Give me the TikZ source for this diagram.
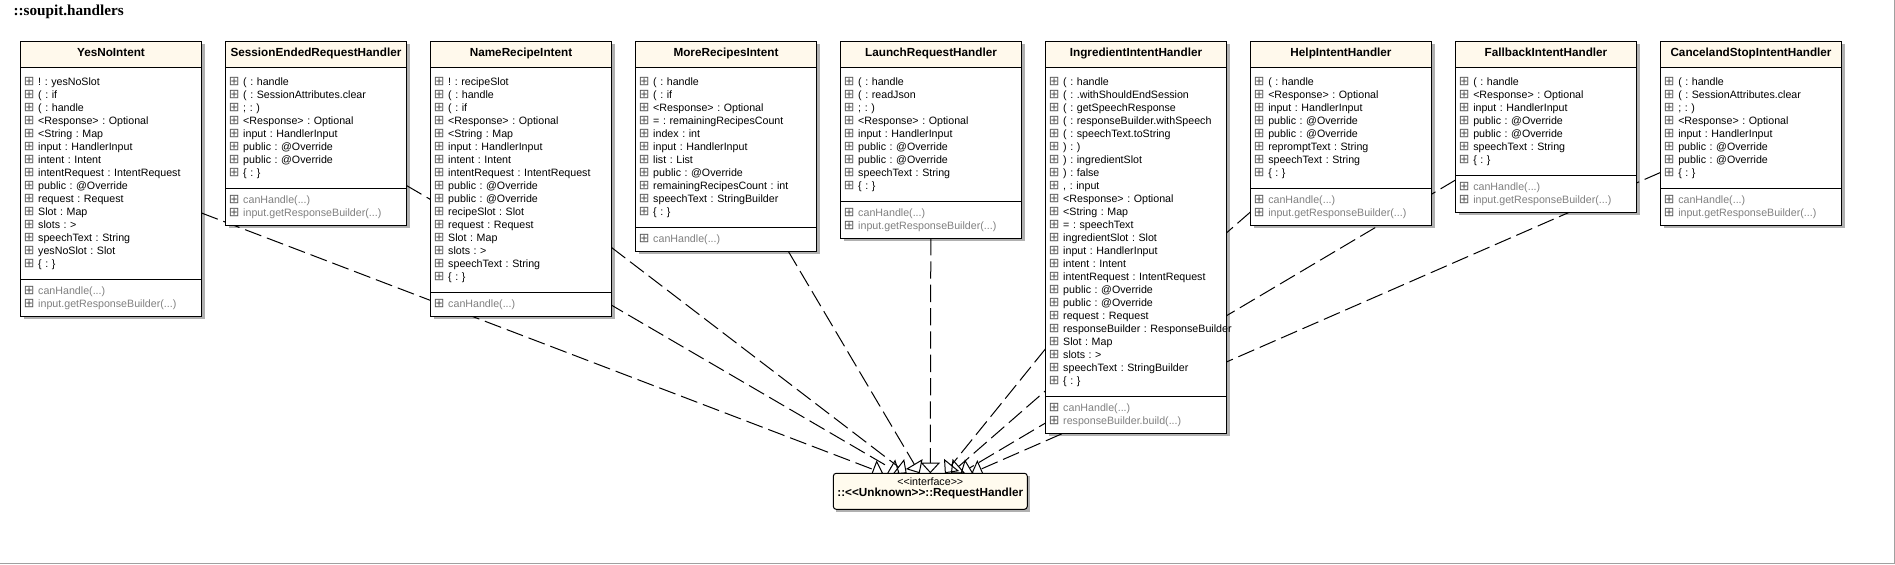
\documentclass[tikz,border=0pt]{standalone}
\usepackage{fontspec}
\setmainfont{Liberation Sans}
\newfontfamily\titlefont{Liberation Serif}
\newfontfamily\symfont{DejaVu Sans}
\usepackage{tikz}
\usetikzlibrary{shapes.multipart,arrows.meta,positioning,backgrounds}

\definecolor{headcream}{RGB}{255,249,236}
\definecolor{ifacecream}{RGB}{255,251,238}
\definecolor{methodgray}{RGB}{128,128,128}
\definecolor{icongray}{RGB}{90,90,90}
\definecolor{shadowgray}{RGB}{176,176,176}
\definecolor{framegray}{RGB}{160,160,160}

\frenchspacing
\newcommand{\plusbox}{\makebox[10.8pt][l]{\textcolor{icongray}{\symfont\fontsize{9.5pt}{9.5pt}\selectfont ⊞}}}
\newcommand{\mline}[1]{\mbox{\plusbox#1}\rule[-2.25pt]{0pt}{9.75pt}\par\nointerlineskip}
\newcommand{\opline}[1]{\mline{\textcolor{methodgray}{#1}}}
\newcommand{\vpad}[1]{\rule{0pt}{#1}\par\nointerlineskip}
\newcommand{\classtitle}[1]{\centering\bfseries\fontsize{8.8pt}{10pt}\selectfont\rule[-7.75pt]{0pt}{18.75pt}#1\par}

\tikzset{
  umlclass/.style={rectangle split, rectangle split parts=3, draw, line width=0.75pt,
    rectangle split part fill={headcream,white}, text width=130.75pt,
    inner xsep=2.5pt, inner ysep=0pt, outer sep=0pt, anchor=north west,
    font=\fontsize{8pt}{9.75pt}\selectfont\frenchspacing},
  nextclass/.style={umlclass, right=18pt of #1.north east, anchor=north west},
  ifacebox/.style={draw, line width=0.75pt, fill=ifacecream, rounded corners=2.25pt,
    text width=145.5pt, align=center, inner sep=0pt, outer sep=0pt,
    font=\fontsize{8pt}{9.75pt}\selectfont},
  boxshadow/.style={fill=shadowgray, draw=none},
  realizes/.style={line width=0.75pt, dash pattern=on 13pt off 4.5pt,
    -{Triangle[open, length=8pt, width=14.5pt]}}
}

\begin{document}
\begin{tikzpicture}[x=0.75pt, y=-0.75pt]
\useasboundingbox (0,0) rectangle (1895,564);
\draw[framegray, line width=0.75pt] (0,563.5) -- (1894.5,563.5) -- (1894.5,0);

\node[anchor=base west, inner sep=0pt, font=\titlefont\bfseries\fontsize{11.4pt}{13pt}\selectfont] (pkgtitle) at (13.3,15.5) {::soupit.handlers};

\node[umlclass] (yesno) at (20.5,41) {\classtitle{YesNoIntent}
  \nodepart{two}\vpad{6pt}\mline{! : yesNoSlot}\mline{( : if}\mline{( : handle}\mline{<Response> : Optional}\mline{<String : Map}\mline{input : HandlerInput}\mline{intent : Intent}\mline{intentRequest : IntentRequest}\mline{public : @Override}\mline{request : Request}\mline{Slot : Map}\mline{slots : >}\mline{speechText : String}\mline{yesNoSlot : Slot}\mline{\{ : \}}\vpad{6pt}
  \nodepart{three}\vpad{3.75pt}\opline{canHandle(...)}\opline{input.getResponseBuilder(...)}\vpad{3.75pt}};

\node[nextclass=yesno] (sessionended) {\classtitle{SessionEndedRequestHandler}
  \nodepart{two}\vpad{6pt}\mline{( : handle}\mline{( : SessionAttributes.clear}\mline{; : )}\mline{<Response> : Optional}\mline{input : HandlerInput}\mline{public : @Override}\mline{public : @Override}\mline{\{ : \}}\vpad{6pt}
  \nodepart{three}\vpad{3.75pt}\opline{canHandle(...)}\opline{input.getResponseBuilder(...)}\vpad{3.75pt}};

\node[nextclass=sessionended] (namerecipe) {\classtitle{NameRecipeIntent}
  \nodepart{two}\vpad{6pt}\mline{! : recipeSlot}\mline{( : handle}\mline{( : if}\mline{<Response> : Optional}\mline{<String : Map}\mline{input : HandlerInput}\mline{intent : Intent}\mline{intentRequest : IntentRequest}\mline{public : @Override}\mline{public : @Override}\mline{recipeSlot : Slot}\mline{request : Request}\mline{Slot : Map}\mline{slots : >}\mline{speechText : String}\mline{\{ : \}}\vpad{6pt}
  \nodepart{three}\vpad{3.75pt}\opline{canHandle(...)}\vpad{3.75pt}};

\node[nextclass=namerecipe] (morerecipes) {\classtitle{MoreRecipesIntent}
  \nodepart{two}\vpad{6pt}\mline{( : handle}\mline{( : if}\mline{<Response> : Optional}\mline{= : remainingRecipesCount}\mline{index : int}\mline{input : HandlerInput}\mline{list : List}\mline{public : @Override}\mline{remainingRecipesCount : int}\mline{speechText : StringBuilder}\mline{\{ : \}}\vpad{6pt}
  \nodepart{three}\vpad{3.75pt}\opline{canHandle(...)}\vpad{3.75pt}};

\node[nextclass=morerecipes] (launch) {\classtitle{LaunchRequestHandler}
  \nodepart{two}\vpad{6pt}\mline{( : handle}\mline{( : readJson}\mline{; : )}\mline{<Response> : Optional}\mline{input : HandlerInput}\mline{public : @Override}\mline{public : @Override}\mline{speechText : String}\mline{\{ : \}}\vpad{6pt}
  \nodepart{three}\vpad{3.75pt}\opline{canHandle(...)}\opline{input.getResponseBuilder(...)}\vpad{3.75pt}};

\node[nextclass=launch] (ingredient) {\classtitle{IngredientIntentHandler}
  \nodepart{two}\vpad{6pt}\mline{( : handle}\mline{( : .withShouldEndSession}\mline{( : getSpeechResponse}\mline{( : responseBuilder.withSpeech}\mline{( : speechText.toString}\mline{) : )}\mline{) : ingredientSlot}\mline{) : false}\mline{, : input}\mline{<Response> : Optional}\mline{<String : Map}\mline{= : speechText}\mline{ingredientSlot : Slot}\mline{input : HandlerInput}\mline{intent : Intent}\mline{intentRequest : IntentRequest}\mline{public : @Override}\mline{public : @Override}\mline{request : Request}\mline{responseBuilder : ResponseBuilder}\mline{Slot : Map}\mline{slots : >}\mline{speechText : StringBuilder}\mline{\{ : \}}\vpad{6pt}
  \nodepart{three}\vpad{3.75pt}\opline{canHandle(...)}\opline{responseBuilder.build(...)}\vpad{3.75pt}};

\node[nextclass=ingredient] (help) {\classtitle{HelpIntentHandler}
  \nodepart{two}\vpad{6pt}\mline{( : handle}\mline{<Response> : Optional}\mline{input : HandlerInput}\mline{public : @Override}\mline{public : @Override}\mline{repromptText : String}\mline{speechText : String}\mline{\{ : \}}\vpad{6pt}
  \nodepart{three}\vpad{3.75pt}\opline{canHandle(...)}\opline{input.getResponseBuilder(...)}\vpad{3.75pt}};

\node[nextclass=help] (fallback) {\classtitle{FallbackIntentHandler}
  \nodepart{two}\vpad{6pt}\mline{( : handle}\mline{<Response> : Optional}\mline{input : HandlerInput}\mline{public : @Override}\mline{public : @Override}\mline{speechText : String}\mline{\{ : \}}\vpad{6pt}
  \nodepart{three}\vpad{3.75pt}\opline{canHandle(...)}\opline{input.getResponseBuilder(...)}\vpad{3.75pt}};

\node[nextclass=fallback] (cancelstop) {\classtitle{CancelandStopIntentHandler}
  \nodepart{two}\vpad{6pt}\mline{( : handle}\mline{( : SessionAttributes.clear}\mline{; : )}\mline{<Response> : Optional}\mline{input : HandlerInput}\mline{public : @Override}\mline{public : @Override}\mline{\{ : \}}\vpad{6pt}
  \nodepart{three}\vpad{3.75pt}\opline{canHandle(...)}\opline{input.getResponseBuilder(...)}\vpad{3.75pt}};

\node[ifacebox] (iface) at (930.3,491.3) {\rule{0pt}{9.15pt}<{}<interface>{}>\par\nointerlineskip
  {\bfseries\fontsize{8.8pt}{10pt}\selectfont\rule[-9.6pt]{0pt}{17.85pt}::<{}<Unknown>{}>::RequestHandler}};

\begin{scope}[on background layer]
  \foreach \cls in {yesno,sessionended,namerecipe,morerecipes,launch,ingredient,help,fallback,cancelstop,iface}
    \fill[boxshadow] ([shift={(3,3)}]\cls.north west) rectangle ([shift={(3,3)}]\cls.south east);
  \foreach \cls in {yesno,sessionended,namerecipe,morerecipes,launch,ingredient,help,fallback,cancelstop}
    \draw[realizes] (\cls) -- (iface);
\end{scope}
\end{tikzpicture}
\end{document}
